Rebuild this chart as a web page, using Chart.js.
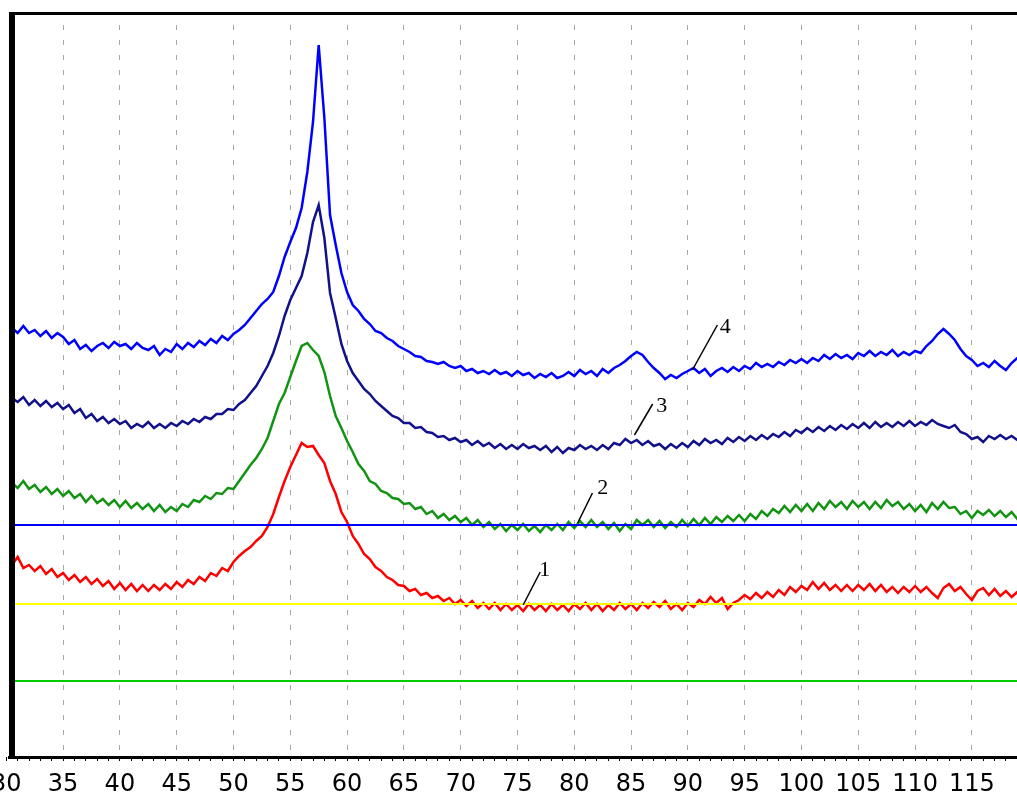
<!DOCTYPE html>
<html>
<head>
<meta charset="utf-8">
<title>XRD patterns</title>
<script src="https://cdn.jsdelivr.net/npm/chart.js@4.4.1/dist/chart.umd.min.js"></script>
<style>
  html, body { margin: 0; padding: 0; background: #fff; overflow: hidden; }
  #wrap { position: absolute; left: -20px; top: 0; width: 1060px; height: 796px; }
</style>
</head>
<body>
<div id="wrap"><canvas id="xrd"></canvas></div>
<script>
// eje 2-theta: 30.5 .. 119.5 cada 0.5 grados
var twoTheta = [];
for (var a = 30.5; a <= 119.5; a += 0.5) twoTheta.push(a);

// intensidades (unidades arbitrarias), una fila = 5 grados
var curve1 = [
  192,200,189,192,186,191,183,188,180,184,
  177,182,175,180,173,178,171,176,168,174,
  167,173,166,172,166,172,167,173,168,175,
  170,177,173,180,176,184,181,189,186,195,
  201,206,210,216,221,230,243,260,276,290,
  302,314,310,311,302,294,276,263,245,235,
  221,213,203,198,190,186,180,177,172,171,
  166,168,162,164,159,161,156,159,153,157,
  151,156,149,154,148,154,147,153,147,152,
  146,153,147,152,146,153,147,152,146,153,
  148,154,147,153,146,152,147,154,148,153,
  147,154,149,155,150,156,148,153,147,154,
  150,157,153,160,154,159,148,154,157,162,
  158,164,159,165,160,167,162,170,165,171,
  167,175,168,174,167,172,166,172,166,172,
  167,173,166,172,165,170,164,170,165,171,
  165,170,164,159,169,173,166,170,163,157,
  166,169,162,168,161,166,160,165,159
];
var curve2 = [
  274,269,276,268,272,265,270,263,268,261,
  266,259,263,255,261,254,258,252,257,250,
  256,249,254,248,253,246,252,245,250,246,
  253,250,257,255,261,258,264,263,269,268,
  276,284,292,299,308,319,336,353,364,380,
  396,411,414,407,401,385,361,341,329,316,
  305,293,286,276,273,266,264,259,258,253,
  254,248,250,243,246,239,243,237,241,235,
  239,232,237,230,235,228,233,226,232,227,
  233,226,231,225,232,227,233,227,235,229,
  236,230,237,230,235,228,234,226,233,228,
  237,232,237,230,236,229,235,230,237,231,
  238,232,239,233,240,235,241,236,242,236,
  243,238,246,241,248,244,251,245,252,246,
  253,246,254,248,256,250,255,248,256,250,
  255,248,255,249,257,251,255,248,253,246,
  252,245,254,248,255,249,250,243,246,239,
  246,242,247,241,246,240,245,238,243
];
var curve3 = [
  359,355,360,352,357,351,356,350,354,348,
  352,344,348,339,343,336,340,334,338,333,
  336,329,333,330,335,329,333,329,334,331,
  336,333,338,335,340,338,343,343,348,347,
  353,357,364,371,381,391,404,421,441,457,
  469,481,504,535,552,519,464,439,413,396,
  384,376,368,363,356,351,346,341,339,334,
  334,329,330,325,324,320,321,317,319,315,
  317,312,316,311,314,309,313,308,312,308,
  313,309,311,307,311,305,310,304,309,307,
  312,308,311,307,312,308,314,312,318,314,
  317,312,316,311,313,308,313,309,314,310,
  316,312,318,314,317,313,319,315,320,316,
  321,317,322,318,323,320,325,321,327,324,
  329,325,330,326,331,327,332,328,333,329,
  334,329,335,330,334,330,335,331,336,331,
  335,332,337,333,331,329,332,325,323,318,
  320,315,321,318,322,318,321,317,321
];
var curve4 = [
  429,424,431,424,427,421,426,419,424,420,
  413,417,408,412,406,411,414,409,415,411,
  413,408,414,409,407,411,402,408,405,413,
  408,414,410,416,412,418,414,421,417,423,
  427,432,439,446,453,458,465,481,500,515,
  529,549,585,635,712,639,542,512,484,465,
  452,446,438,433,426,424,419,416,411,408,
  405,401,400,396,395,393,395,391,389,391,
  386,388,384,386,383,387,383,385,381,386,
  382,384,379,383,380,384,379,381,385,381,
  387,383,386,381,388,384,389,392,396,401,
  405,402,395,389,384,378,382,379,383,386,
  389,384,388,381,386,389,385,390,386,391,
  388,394,390,393,390,395,392,397,394,398,
  394,399,396,402,398,403,399,402,398,404,
  401,406,401,405,402,407,401,405,402,406,
  404,411,416,423,428,423,417,408,401,397,
  391,394,390,396,391,387,394,399,391
];

// lineas horizontales de referencia
var baseLevels = [232, 153, 76];

// etiquetas de las curvas con su linea guia
var tagText  = ['1', '2', '3', '4'];
var tagFromX = [75.5, 80.3, 85.3, 90.4];
var tagFromY = [152, 234, 322, 387];
var tagToX   = [77.0, 81.6, 86.9, 92.6];
var tagToY   = [185, 264, 353, 432];
var tagX     = [77.4, 82.5, 87.7, 93.3];
var tagY     = [187, 269, 351, 430];

var xMin = 30, xMax = 119.9, axisAt = 30.5;

function toPoints(ys) {
    return ys.map(function (v, i) { return { x: twoTheta[i], y: v }; });
}

function curve(ys, color) {
    return { data: toPoints(ys), borderColor: color, borderWidth: 2.5, pointRadius: 0, tension: 0, order: 2 };
}

function hline(level, color) {
    return { data: [{ x: axisAt, y: level }, { x: xMax, y: level }], borderColor: color, borderWidth: 2, pointRadius: 0, order: 1 };
}

var datasets = [
    curve(curve1, '#ff0000'),
    curve(curve2, '#129412'),
    curve(curve3, '#11118c'),
    curve(curve4, '#0000ff'),
    hline(baseLevels[0], '#0000ff'),
    hline(baseLevels[1], '#ffff00'),
    hline(baseLevels[2], '#00cc00')
];
for (var i = 0; i < tagText.length; i++) {
    datasets.push({
        data: [{ x: tagFromX[i], y: tagFromY[i] }, { x: tagToX[i], y: tagToY[i] }],
        borderColor: '#000', borderWidth: 1.5, pointRadius: 0, order: 0
    });
}

// marco negro: eje izquierdo grueso, linea superior e inferior
var framePlugin = {
    id: 'frame',
    afterDraw: function (chart) {
        var ctx = chart.ctx, area = chart.chartArea;
        var ax = chart.scales.x.getPixelForValue(axisAt);
        ctx.save();
        ctx.fillStyle = '#000';
        ctx.fillRect(ax - 3, area.top - 1, 6, area.bottom - area.top + 3);
        ctx.fillRect(ax - 3, area.top - 1, area.right - ax + 20, 3);
        ctx.fillRect(ax - 4, area.bottom - 1, area.right - ax + 20, 3);
        ctx.restore();
    }
};

var tagPlugin = {
    id: 'tags',
    afterDatasetsDraw: function (chart) {
        var ctx = chart.ctx, sx = chart.scales.x, sy = chart.scales.y;
        ctx.save();
        ctx.fillStyle = '#000';
        ctx.font = '22px "Liberation Serif"';
        ctx.textAlign = 'center';
        ctx.textBaseline = 'middle';
        for (var i = 0; i < tagText.length; i++) {
            ctx.fillText(tagText[i], sx.getPixelForValue(tagX[i]), sy.getPixelForValue(tagY[i]));
        }
        ctx.restore();
    }
};

new Chart(document.getElementById('xrd'), {
    type: 'line',
    data: { datasets: datasets },
    plugins: [framePlugin, tagPlugin],
    options: {
        responsive: true,
        maintainAspectRatio: false,
        animation: false,
        layout: { padding: { left: 26.3, right: 12.5, top: 13, bottom: 0 } },
        plugins: { legend: { display: false }, tooltip: { enabled: false } },
        scales: {
            x: {
                type: 'linear',
                min: xMin,
                max: xMax,
                afterFit: function (scale) { scale.height = 39; },
                border: { display: false, dash: [5, 10], dashOffset: 3 },
                grid: {
                    color: function (c) {
                        var v = c.tick ? c.tick.value : 0;
                        return (v % 5 === 0 && v > xMin) ? '#a8a8a8' : 'rgba(0,0,0,0)';
                    },
                    lineWidth: 1,
                    tickColor: '#000',
                    tickLength: 4
                },
                ticks: {
                    stepSize: 1,
                    autoSkip: false,
                    includeBounds: false,
                    maxRotation: 0,
                    minRotation: 0,
                    padding: 9,
                    color: '#000',
                    font: { family: 'DejaVu Sans', size: 24 },
                    callback: function (v) { return v % 5 === 0 ? String(v) : ''; }
                }
            },
            y: {
                display: false,
                min: 0,
                max: 744
            }
        }
    }
});
</script>
</body>
</html>
